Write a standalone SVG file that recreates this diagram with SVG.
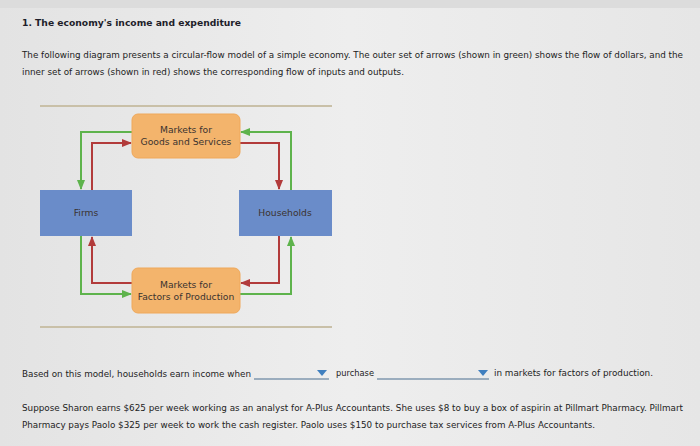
<svg xmlns="http://www.w3.org/2000/svg" width="700" height="446" viewBox="0 0 700 446">
<defs>
<linearGradient id="bg" x1="0" y1="0" x2="1" y2="0">
<stop offset="0" stop-color="#e3e3e3"/>
<stop offset="0.5" stop-color="#eeeeee"/>
<stop offset="1" stop-color="#e6e6e6"/>
</linearGradient>
<marker id="ag" viewBox="0 0 10 10" refX="9" refY="5" markerWidth="5" markerHeight="5" orient="auto"><path d="M0,1 L10,5 L0,9 z" fill="#5eb34c"/></marker>
<marker id="ar" viewBox="0 0 10 10" refX="9" refY="5" markerWidth="5" markerHeight="5" orient="auto"><path d="M0,1 L10,5 L0,9 z" fill="#b23b3b"/></marker>
</defs>
<style>
.t{font-family:"DejaVu Sans",Verdana,sans-serif;fill:#222;font-size:8.4px}
.h{font-family:"DejaVu Sans",Verdana,sans-serif;fill:#1e1e2a;font-size:9.2px;font-weight:bold}
.lbl{font-family:"DejaVu Sans",Verdana,sans-serif;fill:#3a3330;font-size:9.2px;text-anchor:middle}
.mk{fill:#f3b46c;stroke:#efa85a;stroke-width:1}
.bx{fill:#6a8cc9}
.g{fill:none;stroke:#5eb34c;stroke-width:2;marker-end:url(#ag)}
.r{fill:none;stroke:#b23b3b;stroke-width:2;marker-end:url(#ar)}
.rule{stroke:#c9c0a8;stroke-width:2}
.ul{stroke:#4a6f8f;stroke-width:1.2}
.tri{fill:#3f7fbf}
</style>
<rect width="700" height="446" fill="url(#bg)"/>
<rect width="700" height="8" fill="#dcdcdc"/>
<text class="h" x="22" y="26">1. The economy's income and expenditure</text>
<text class="t" x="22" y="58" textLength="661" lengthAdjust="spacingAndGlyphs">The following diagram presents a circular-flow model of a simple economy. The outer set of arrows (shown in green) shows the flow of dollars, and the</text>
<text class="t" x="22" y="75" textLength="382" lengthAdjust="spacingAndGlyphs">inner set of arrows (shown in red) shows the corresponding flow of inputs and outputs.</text>
<line class="rule" x1="40" y1="106" x2="332" y2="106"/>
<line class="rule" x1="40" y1="327" x2="332" y2="327"/>
<g id="connectors">
<path class="g" d="M132,132 H81 V189"/>
<path class="r" d="M92,190 V143 H131"/>
<path class="r" d="M240,143 H279 V189"/>
<path class="g" d="M291,190 V132 H241"/>
<path class="r" d="M132,283 H92 V237"/>
<path class="g" d="M81,236 V294 H131"/>
<path class="r" d="M279,236 V283 H241"/>
<path class="g" d="M240,294 H291 V237"/>
</g>
<g id="goods">
<rect class="mk" x="132" y="114" width="108" height="44" rx="6"/>
<text class="lbl" x="186" y="133">Markets for</text>
<text class="lbl" x="186" y="144.5">Goods and Services</text>
</g>
<g id="firms">
<rect class="bx" x="40" y="190" width="92" height="46"/>
<text class="lbl" x="86" y="216">Firms</text>
</g>
<g id="households">
<rect class="bx" x="239" y="190" width="93" height="46"/>
<text class="lbl" x="285" y="216">Households</text>
</g>
<g id="factors">
<rect class="mk" x="132" y="268" width="108" height="45" rx="6"/>
<text class="lbl" x="186" y="288">Markets for</text>
<text class="lbl" x="186" y="299.5">Factors of Production</text>
</g>
<text class="t" x="22" y="377" textLength="229" lengthAdjust="spacingAndGlyphs">Based on this model, households earn income when</text>
<line class="ul" x1="254" y1="379" x2="329" y2="379"/>
<path class="tri" d="M317,370 H327 L322,376 z"/>
<text class="t" x="336" y="376" textLength="38" lengthAdjust="spacingAndGlyphs">purchase</text>
<line class="ul" x1="377" y1="379" x2="489" y2="379"/>
<path class="tri" d="M478,370 H488 L483,376 z"/>
<text class="t" x="494" y="376" textLength="159" lengthAdjust="spacingAndGlyphs">in markets for factors of production.</text>
<text class="t" x="22" y="411" textLength="661" lengthAdjust="spacingAndGlyphs">Suppose Sharon earns $625 per week working as an analyst for A-Plus Accountants. She uses $8 to buy a box of aspirin at Pillmart Pharmacy. Pillmart</text>
<text class="t" x="22" y="428" textLength="573" lengthAdjust="spacingAndGlyphs">Pharmacy pays Paolo $325 per week to work the cash register. Paolo uses $150 to purchase tax services from A-Plus Accountants.</text>
</svg>
